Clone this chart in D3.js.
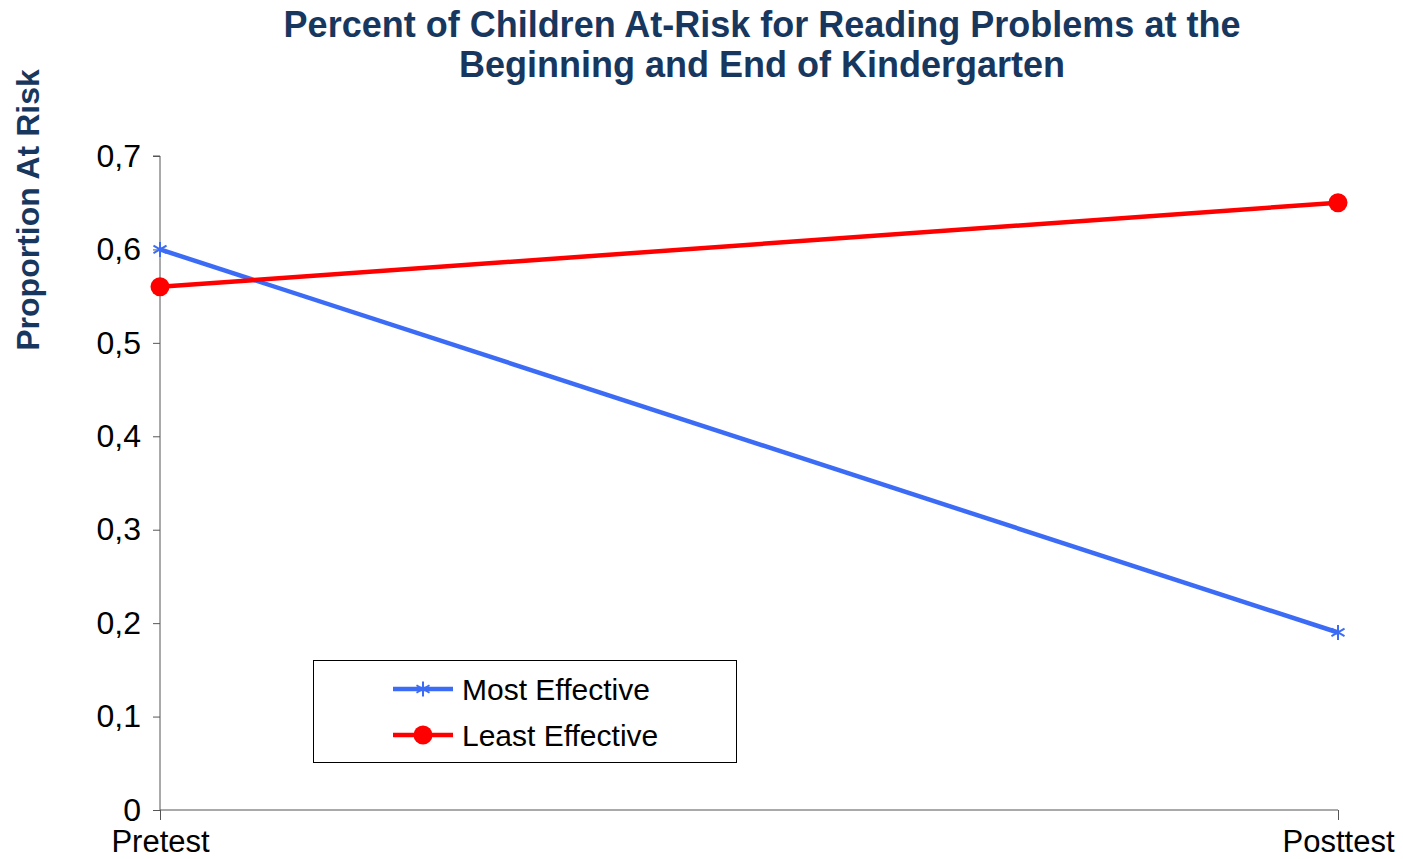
<!DOCTYPE html>
<html>
<head>
<meta charset="utf-8">
<script src="https://cdn.jsdelivr.net/npm/d3@7"></script>
<style>
  html, body { margin: 0; padding: 0; background: #fff; }
  svg { display: block; font-family: "Liberation Sans", Arial, sans-serif; }
</style>
</head>
<body>
<svg id="chart" width="1403" height="859"></svg>
<script>
// Test phases along the x axis
const phases = ["Pretest", "Posttest"];
// Proportion of children at risk, per classroom group
const mostEffective = [0.60, 0.19];
const leastEffective = [0.56, 0.65];
// Y axis tick values and their labels (comma decimal separator)
const yTicks = [0, 0.1, 0.2, 0.3, 0.4, 0.5, 0.6, 0.7];
const yTickLabels = ["0", "0,1", "0,2", "0,3", "0,4", "0,5", "0,6", "0,7"];

const series = [
  { name: "Most Effective", values: mostEffective, color: "#3C6CF5", marker: "star" },
  { name: "Least Effective", values: leastEffective, color: "#FF0000", marker: "circle" }
];

const svg = d3.select("#chart");
const plot = { left: 160, right: 1338, top: 156, bottom: 810 };

const x = d3.scalePoint().domain(phases).range([plot.left, plot.right]);
const y = d3.scaleLinear().domain([0, 0.7]).range([plot.bottom, plot.top]);

// Title
const title = svg.append("text")
  .attr("text-anchor", "middle")
  .attr("fill", "#17375E").attr("font-weight", "bold").attr("font-size", 36);
title.append("tspan").attr("x", 762).attr("y", 37).text("Percent of Children At-Risk for Reading Problems at the");
title.append("tspan").attr("x", 762).attr("y", 77).text("Beginning and End of Kindergarten");

// Y axis title
svg.append("text")
  .attr("transform", `translate(39, 210) rotate(-90)`)
  .attr("text-anchor", "middle")
  .attr("fill", "#17375E").attr("font-weight", "bold").attr("font-size", 32)
  .text("Proportion At Risk");

// Y axis
const yAxis = svg.append("g")
  .attr("transform", `translate(${plot.left},0)`)
  .call(d3.axisLeft(y).tickValues(yTicks).tickSize(7).tickPadding(12)
    .tickFormat((d, i) => yTickLabels[i]));
yAxis.select(".domain").attr("stroke", "#555").attr("d", `M-7,${plot.top}H0V${plot.bottom}`);
yAxis.selectAll(".tick line").attr("stroke", "#555");
yAxis.selectAll(".tick text").attr("font-size", 32).attr("fill", "#000")
  .attr("font-family", "'Liberation Sans', Arial, sans-serif");

// X axis
const xAxis = svg.append("g")
  .attr("transform", `translate(0,${plot.bottom})`)
  .call(d3.axisBottom(x).tickSize(10).tickPadding(10));
xAxis.select(".domain").attr("stroke", "#555").attr("d", `M${plot.left},0H${plot.right}`);
xAxis.selectAll(".tick line").attr("stroke", "#555");
xAxis.selectAll(".tick text").attr("font-size", 31).attr("fill", "#000")
  .attr("font-family", "'Liberation Sans', Arial, sans-serif");

// Marker drawing helpers
function drawMarker(g, type, cx, cy, color) {
  if (type === "circle") {
    g.append("circle").attr("cx", cx).attr("cy", cy).attr("r", 9.5).attr("fill", color);
  } else {
    const r = 7.5;
    const mk = g.append("g").attr("stroke", color).attr("stroke-width", 2);
    mk.append("line").attr("x1", cx).attr("y1", cy - r).attr("x2", cx).attr("y2", cy + r);
    mk.append("line").attr("x1", cx - r * 0.87).attr("y1", cy - r * 0.5).attr("x2", cx + r * 0.87).attr("y2", cy + r * 0.5);
    mk.append("line").attr("x1", cx - r * 0.87).attr("y1", cy + r * 0.5).attr("x2", cx + r * 0.87).attr("y2", cy - r * 0.5);
  }
}

// Series lines and markers
const line = d3.line().x((d, i) => x(phases[i])).y(d => y(d));
series.forEach(s => {
  const g = svg.append("g");
  g.append("path").datum(s.values).attr("d", line)
    .attr("fill", "none").attr("stroke", s.color).attr("stroke-width", 4.5);
  s.values.forEach((v, i) => drawMarker(g, s.marker, x(phases[i]), y(v), s.color));
});

// Legend
const legend = svg.append("g");
legend.append("rect").attr("x", 313.5).attr("y", 660.5).attr("width", 423).attr("height", 102)
  .attr("fill", "#fff").attr("stroke", "#000").attr("stroke-width", 1);
series.forEach((s, i) => {
  const ly = 689 + i * 46;
  legend.append("line").attr("x1", 393).attr("x2", 453).attr("y1", ly).attr("y2", ly)
    .attr("stroke", s.color).attr("stroke-width", 4.5);
  drawMarker(legend, s.marker, 423, ly, s.color);
  legend.append("text").attr("x", 462).attr("y", ly + 11)
    .attr("font-size", 30).attr("fill", "#000").text(s.name);
});
</script>
</body>
</html>
